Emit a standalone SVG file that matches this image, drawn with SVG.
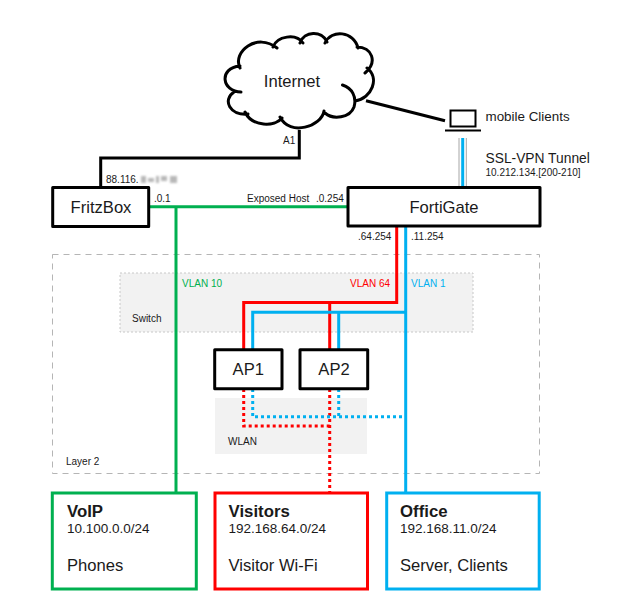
<svg xmlns="http://www.w3.org/2000/svg" width="640" height="610" viewBox="0 0 640 610">
<style>
text{font-family:"Liberation Sans",Arial,sans-serif;fill:#1a1a1a}
.s9{font-size:10px}.s12{font-size:13.4px}.s13{font-size:13.5px}.s16{font-size:16.6px}
.b{font-size:16.8px;font-weight:bold}
.n{fill:#fff;stroke:#000;stroke-width:3;stroke-linejoin:round}
.k{fill:none;stroke:#000;stroke-width:3}
.g{fill:none;stroke:#00B050;stroke-width:3}
.r{fill:none;stroke:#FF0000;stroke-width:3}
.u{fill:none;stroke:#00B0F0;stroke-width:3}
.d{stroke-dasharray:3 3}
.area{fill:#F2F2F2}
</style>
<defs><filter id="blur" x="-10%" y="-50%" width="120%" height="200%"><feGaussianBlur stdDeviation="1"/></filter></defs>
<g id="layer2"><rect x="52.500" y="254.500" width="487" height="219" fill="#fff" stroke="#B5B5B5" stroke-dasharray="6 5"/><text class="s9" x="66" y="465">Layer 2</text></g>
<g id="switch"><rect class="area" x="120" y="273" width="353" height="59" stroke="#C8C8C8" stroke-dasharray="2 2" stroke-width="1"/><text class="s9" x="132" y="322">Switch</text></g>
<g id="wlan"><rect class="area" x="215" y="398" width="152" height="56"/><text class="s9" x="228" y="445">WLAN</text></g>
<g id="connectors">
<path class="k" d="M299.300,130V158H100.700V187"/>
<path class="k" d="M366,100.700L445,120.700"/>
<path d="M459,138V187M466.300,138V187" fill="none" stroke="#A6A6A6" stroke-width="1"/>
<path d="M462.700,138V187" class="u"/>
<path class="g" d="M149,206.700H348M176,206.700V492"/>
<path class="r" d="M396.700,226V302.500H243.700V349M329.700,302.500V349"/>
<path class="u" d="M405.700,226V492M405.700,312.300H252.700V349M338.700,312.300V349"/>
<path class="r d" d="M243.700,389V426H329.700M329.700,389V492"/>
<path class="u d" d="M252.700,389V416.700H405.700M338.700,389V416.700"/>
</g>
<g id="internet">
<path class="k" stroke-linecap="round" d="M342.500,85C352,88 357,97 354,107C350,118 333,120 325,113M324,111C322,126 290,137 280,117M282,118C275,127 252,127 245,112M248,114C230,116 222,100 234,92M241,92C222,92 218,68 240,66M240,68C232,52 257,32 277,48M273,47C277,36 296,33 303,43M300,43C304,31 322,30 327,42M325,43C331,29 354,31 358,48M357,47C372,47 378,62 365,73M367,68C380,78 372,98 355,101"/>
<text class="s16" x="292" y="87" text-anchor="middle">Internet</text>
</g>
<g id="laptop">
<rect x="450.500" y="110.500" width="25" height="16" fill="#fff" stroke="#000" stroke-width="2"/>
<path d="M445,130.500H481" stroke="#000" stroke-width="2"/>
<text class="s12" x="485.500" y="121">mobile Clients</text>
</g>
<g id="fritzbox"><rect class="n" x="52.700" y="187.500" width="96" height="39"/><text class="s16" x="101" y="213" text-anchor="middle">FritzBox</text></g>
<g id="fortigate"><rect class="n" x="348" y="187.500" width="192" height="38.500"/><text class="s16" x="444" y="213" text-anchor="middle">FortiGate</text></g>
<g id="ap1"><rect class="n" x="214.700" y="349.700" width="67.300" height="39"/><text class="s16" x="248.300" y="375" text-anchor="middle">AP1</text></g>
<g id="ap2"><rect class="n" x="300" y="349.700" width="67.700" height="39"/><text class="s16" x="334" y="375" text-anchor="middle">AP2</text></g>
<g id="voip"><rect x="52.300" y="493" width="144" height="96" fill="#fff" stroke="#00B050" stroke-width="3"/>
<text class="b" x="67" y="517">VoIP</text><text class="s13" x="67" y="533">10.100.0.0/24</text><text class="s16" x="67" y="571">Phones</text></g>
<g id="visitors"><rect x="215" y="493" width="152.500" height="96" fill="#fff" stroke="#FF0000" stroke-width="3"/>
<text class="b" x="228.500" y="517">Visitors</text><text class="s13" x="228.500" y="533">192.168.64.0/24</text><text class="s16" x="228.500" y="571">Visitor Wi-Fi</text></g>
<g id="office"><rect x="386.700" y="493" width="152.500" height="96" fill="#fff" stroke="#00B0F0" stroke-width="3"/>
<text class="b" x="400" y="517">Office</text><text class="s13" x="400" y="533">192.168.11.0/24</text><text class="s16" x="400" y="571">Server, Clients</text></g>
<g id="labels">
<text class="s9" x="283" y="144">A1</text>
<text class="s9" x="106" y="183">88.116.</text>
<path filter="url(#blur)" d="M141,176h5v7h-5zM148,178h6v4h-6zM156,176h3v7h-3zM161,176h6v5h-6zM170,176h7v7h-7z" fill="#B8B8B8"/>
<text class="s9" x="154" y="202">.0.1</text>
<text class="s9" x="247" y="202">Exposed Host</text>
<text class="s9" x="316" y="202">.0.254</text>
<text x="485.500" y="163" style="font-size:13.800px">SSL-VPN Tunnel</text>
<text class="s9" x="485.500" y="176">10.212.134.[200-210]</text>
<text class="s9" x="358" y="240">.64.254</text>
<text class="s9" x="411" y="240">.11.254</text>
<text class="s9" x="182" y="287" style="fill:#00B050">VLAN 10</text>
<text class="s9" x="350" y="287" style="fill:#FF0000">VLAN 64</text>
<text class="s9" x="411" y="287" style="fill:#00B0F0">VLAN 1</text>
</g>
</svg>
